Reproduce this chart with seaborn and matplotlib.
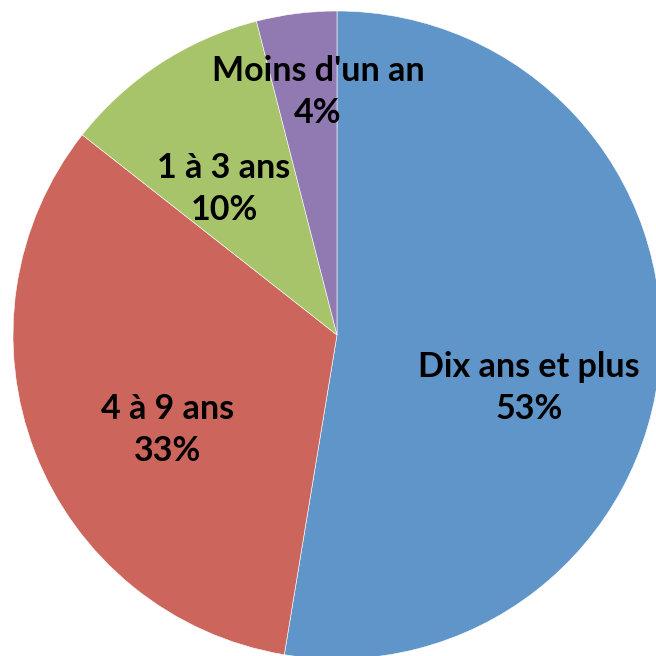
import matplotlib
matplotlib.use("Agg")
import matplotlib.pyplot as plt
import seaborn as sns

sns.set_theme(style="white")
plt.rcParams['font.family'] = ['Lato', 'DejaVu Sans']

categories = ["Dix ans et plus", "4 à 9 ans", "1 à 3 ans", "Moins d'un an"]
values = [52.6, 33.0, 10.4, 4.0]
pct_labels = ["53%", "33%", "10%", "4%"]
colors = ["#5F95C9", "#CC665C", "#A8C46B", "#917AB1"]

# label block centres, in units of the pie radius
label_xy = [(0.593, -0.164), (-0.522, -0.293), (-0.349, 0.451), (-0.059, 0.750)]

W = H = 656
fig = plt.figure(figsize=(6.56, 6.56), dpi=100)
cx, cy, r = 337, 335, 324
ax = fig.add_axes([(cx - r) / W, 1 - (cy + r) / H, 2 * r / W, 2 * r / H])

wedges, _ = ax.pie(values, colors=colors, startangle=90, counterclock=False,
                   radius=1.0, wedgeprops=dict(edgecolor="white", linewidth=0.4))
ax.set_xlim(-1, 1)
ax.set_ylim(-1, 1)
ax.set_aspect("equal")
ax.axis("off")

for (cat, p, (x, y)) in zip(categories, pct_labels, label_xy):
    ax.text(x, y, f"{cat}\n{p}", ha="center", va="center", fontsize=24.5,
            fontweight="bold", color="black", linespacing=1.39)

fig.savefig("out.png", dpi=100)
